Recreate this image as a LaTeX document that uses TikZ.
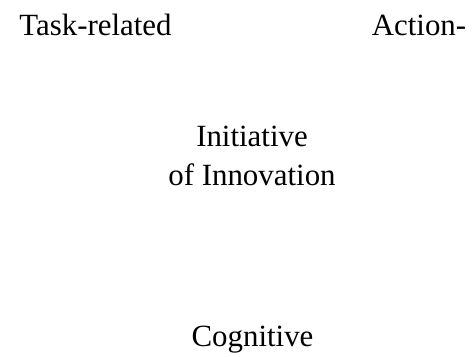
\documentclass[tikz,border=0pt]{standalone}
\usepackage{fontspec}
\setmainfont{Liberation Serif}
\usepackage{tikz}
\usetikzlibrary{positioning}

\begin{document}
\begin{tikzpicture}[x=1bp,y=1bp,
  term/.style={inner sep=0pt,anchor=base,align=center,font=\fontsize{31}{38.3}\selectfont}]
\useasboundingbox (0,0) rectangle (472,356);
%top row
\node[term] (task) at (95.5,321) {Task-related};
\node[term] (action) at (419,321) {Action-};
%middle (base is the second line)
\node[term] (init) at (252,171) {Initiative\\of Innovation};
%bottom
\node[term] (cogn) at (252.5,9.3) {Cognitive};
\end{tikzpicture}
\end{document}
